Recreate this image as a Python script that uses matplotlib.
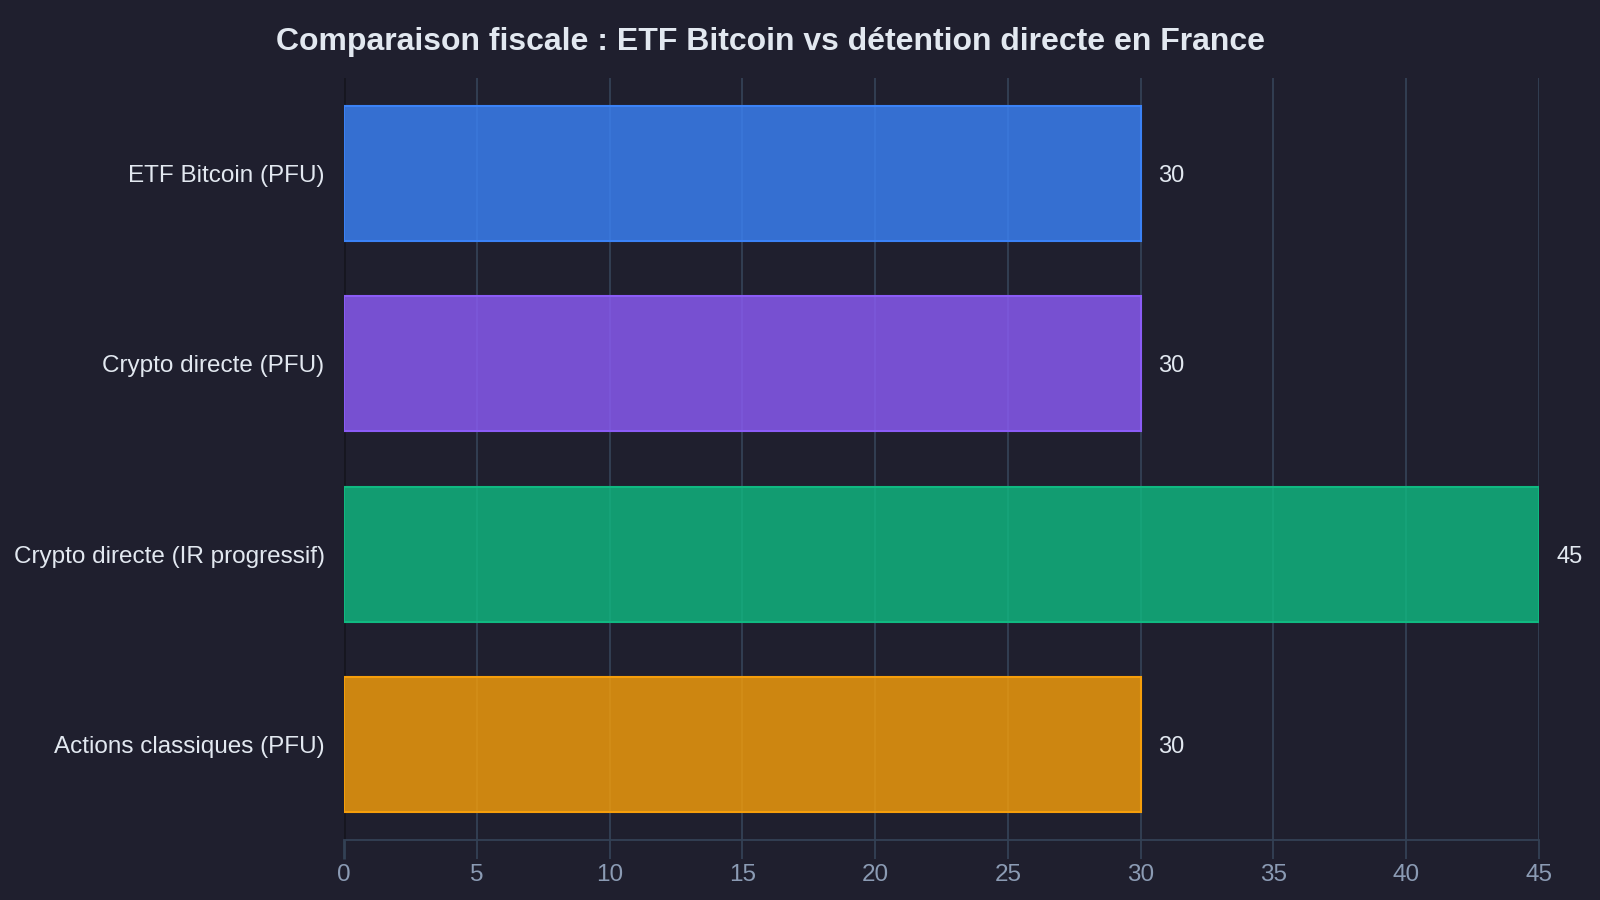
import matplotlib
matplotlib.use("Agg")
import matplotlib.pyplot as plt
from matplotlib.colors import to_rgba

categories = ["ETF Bitcoin (PFU)", "Crypto directe (PFU)", "Crypto directe (IR progressif)", "Actions classiques (PFU)"]
values = [30, 30, 45, 30]
colors = ["#3b82f6", "#8b5cf6", "#10b981", "#f59e0b"]
xticks = [0, 5, 10, 15, 20, 25, 30, 35, 40, 45]
title = "Comparaison fiscale : ETF Bitcoin vs détention directe en France"

plt.rcParams['font.family'] = ['Liberation Sans', 'DejaVu Sans']

BG = "#1f1f2e"
GRID = "#334155"

fig = plt.figure(figsize=(16, 9), dpi=100, facecolor=BG)
ax = fig.add_axes([344/1600, 1 - 840/900, (1539-344)/1600, (840-78)/900])
ax.set_facecolor(BG)

y = list(range(len(categories)))
faces = [to_rgba(c, 0.82) for c in colors]
ax.barh(y, values, height=0.71, color=faces, edgecolor=colors, linewidth=1.5, zorder=3)

for yi, v in zip(y, values):
    ax.text(v + 0.65, yi, f"{v}", va="center_baseline", ha="left", fontsize=17,
            color="#e2e8f0", clip_on=False, zorder=4)

ax.set_ylim(len(categories) - 0.5, -0.5)
ax.set_xlim(0, 45)
ax.set_yticks(y)
ax.set_yticklabels(categories, fontsize=17.5, color="#e2e8f0")
for lbl in ax.get_yticklabels():
    lbl.set_verticalalignment("center_baseline")
ax.set_xticks(xticks)
ax.set_xticklabels([str(t) for t in xticks], fontsize=17.5, color="#8b9bb4")

ax.grid(axis="x", color=GRID, linewidth=1.3, zorder=0)
ax.grid(axis="y", visible=False)
ax.set_axisbelow(True)

for s in ["top", "right", "left"]:
    ax.spines[s].set_visible(False)
ax.spines["bottom"].set_color(GRID)
ax.spines["bottom"].set_linewidth(1.3)
ax.spines["bottom"].set_zorder(2)

ax.axvline(0, color="#16161f", linewidth=2, zorder=1)

ax.tick_params(axis="x", length=14, width=1.3, color=GRID, pad=3)
ax.tick_params(axis="y", length=0, pad=14)
t0 = ax.xaxis.get_major_ticks()[0]
t0.tick1line.set_color("#16161f")
t0.tick1line.set_markeredgewidth(2)

fig.text(770/1600, 1 - 42/900, title, ha="center", va="center",
         fontsize=23, fontweight="bold", color="#e2e8f0")

fig.savefig("out.png", dpi=100, facecolor=BG)
